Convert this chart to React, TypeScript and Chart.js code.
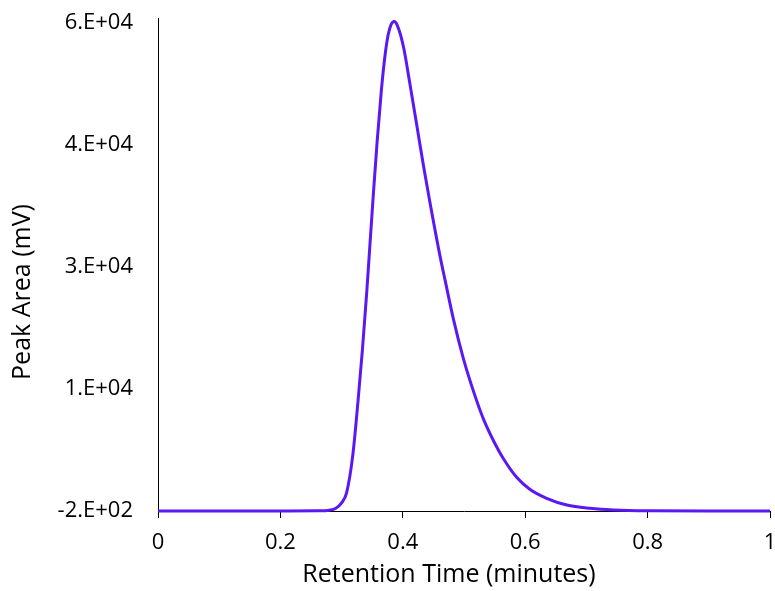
import React, { useEffect, useRef } from "react";
import { Chart, registerables } from "chart.js";

Chart.register(...registerables);

const retentionTime: number[] = [
  0, 0.1, 0.2, 0.26, 0.28, 0.29, 0.3, 0.308, 0.318, 0.327, 0.334, 0.341, 0.346,
  0.352, 0.358, 0.365, 0.371, 0.376, 0.381, 0.386, 0.391, 0.401, 0.412, 0.423,
  0.434, 0.444, 0.461, 0.469, 0.483, 0.499, 0.518, 0.532, 0.548, 0.564, 0.586,
  0.608, 0.635, 0.668, 0.706, 0.744, 0.8, 0.9, 1.0,
];
const peakArea: number[] = [
  -200, -200, -200, -180, -100, 100, 800, 2000, 6500, 13500, 19660, 26690, 32300,
  39000, 45300, 51700, 56000, 58500, 59800, 60160, 59700, 57080, 52300, 47300,
  42300, 38000, 31170, 28300, 23360, 18600, 14000, 11100, 8500, 6300, 3950,
  2450, 1370, 540, 130, -80, -180, -200, -200,
];

const xTickValues: number[] = [0, 0.2, 0.4, 0.6, 0.8, 1];
const xTickLabels: string[] = ["0", "0.2", "0.4", "0.6", "0.8", "1"];
const yTickValues: number[] = [-200, 14850, 29900, 44950, 60000];
const yTickLabels: string[] = ["-2.E+02", "1.E+04", "3.E+04", "4.E+04", "6.E+04"];

const xTitle = "Retention Time (minutes)";
const yTitle = "Peak Area (mV)";

const FONT = "'Open Sans', 'DejaVu Sans', sans-serif";

const titlePlugin = {
  id: "axisTitles",
  afterDraw(chart: any) {
    const ctx = chart.ctx;
    ctx.save();
    ctx.fillStyle = "#000";
    ctx.font = `25px ${FONT}`;
    ctx.textAlign = "center";
    ctx.textBaseline = "middle";
    ctx.fillText(xTitle, 449, 575);
    ctx.translate(23, 292);
    ctx.rotate(-Math.PI / 2);
    ctx.fillText(yTitle, 0, 0);
    ctx.restore();
  },
};

export default function App() {
  const ref = useRef<HTMLCanvasElement | null>(null);

  useEffect(() => {
    if (!ref.current) return;
    const data = retentionTime.map((x, i) => ({ x, y: peakArea[i] }));
    const chart = new Chart(ref.current, {
      type: "line",
      data: {
        datasets: [
          {
            data,
            borderColor: "#5a18f4",
            borderWidth: 3,
            pointRadius: 0,
            cubicInterpolationMode: "monotone",
            fill: false,
            clip: false as any,
          },
        ],
      },
      options: {
        animation: false,
        responsive: true,
        maintainAspectRatio: false,
        devicePixelRatio: 1,
        layout: { padding: { left: 0, right: 5, top: 18, bottom: 0 } },
        plugins: {
          legend: { display: false },
          tooltip: { enabled: false },
        },
        scales: {
          x: {
            type: "linear",
            min: 0,
            max: 1,
            afterBuildTicks: (scale: any) => {
              scale.ticks = xTickValues.map((v) => ({ value: v }));
            },
            afterFit: (scale: any) => {
              scale.height = 80;
              scale.paddingLeft = 0;
              scale.paddingRight = 0;
            },
            ticks: {
              color: "#000",
              font: { family: FONT, size: 22 },
              padding: 12,
              maxRotation: 0,
              autoSkip: false,
              callback: (v: any) => {
                const i = xTickValues.findIndex((t) => Math.abs(t - Number(v)) < 1e-9);
                return i >= 0 ? xTickLabels[i] : "";
              },
            },
            grid: {
              drawOnChartArea: false,
              drawTicks: true,
              tickLength: 7,
              color: "#000",
              lineWidth: 1,
            },
            border: { display: true, color: "#000", width: 1 },
          },
          y: {
            type: "linear",
            min: -200,
            max: 60600,
            afterBuildTicks: (scale: any) => {
              scale.ticks = yTickValues.map((v) => ({ value: v }));
            },
            afterFit: (scale: any) => {
              scale.width = 158;
              scale.paddingTop = 0;
              scale.paddingBottom = 0;
            },
            ticks: {
              color: "#000",
              font: { family: FONT, size: 22 },
              padding: 25,
              autoSkip: false,
              callback: (v: any) => {
                const i = yTickValues.findIndex((t) => Math.abs(t - Number(v)) < 1e-6);
                return i >= 0 ? yTickLabels[i] : "";
              },
            },
            grid: { display: false, drawTicks: false },
            border: { display: true, color: "#000", width: 1 },
          },
        },
      },
      plugins: [titlePlugin],
    });
    return () => chart.destroy();
  }, []);

  return (
    <div
      style={{
        position: "absolute",
        left: 0,
        top: 0,
        width: 775,
        height: 591,
        background: "#fff",
      }}
    >
      <canvas ref={ref} />
    </div>
  );
}
